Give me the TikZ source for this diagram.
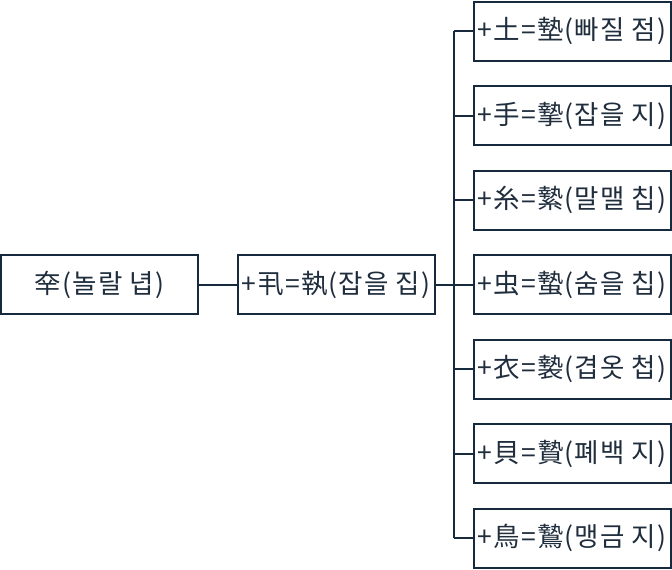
\documentclass[tikz,border=0pt]{standalone}
\usepackage{fontspec}
\setmainfont{Noto Sans CJK KR}[LetterSpace=4.5]
\definecolor{lineC}{HTML}{172A3D}
\definecolor{textC}{HTML}{1F2D3D}
\begin{document}
\begin{tikzpicture}[x=1pt,y=-1pt,
  box/.style={draw=lineC,line width=2pt,minimum width=197pt,minimum height=59pt,inner sep=0pt,font=\fontsize{26.5}{28}\selectfont,text=textC},
  link/.style={draw=lineC,line width=2pt}]
\useasboundingbox (0,0) rectangle (672,570);
\node[box] (root) at (99.5,284.5) {㚔(놀랄 녑)};
\node[box] (mid) at (336,284.5) {+丮=執(잡을 집)};
\node[box] (c1) at (572,31) {+土=墊(빠질 점)};
\node[box] (c2) at (572,115.5) {+手=摯(잡을 지)};
\node[box] (c3) at (572,200) {+糸=縶(말맬 칩)};
\node[box] (c4) at (572,284.5) {+虫=蟄(숨을 칩)};
\node[box] (c5) at (572,369) {+衣=褺(겹옷 첩)};
\node[box] (c6) at (572,453.5) {+貝=贄(폐백 지)};
\node[box] (c7) at (572,538) {+鳥=鷙(맹금 지)};
\coordinate (bus) at (454,284.5);
\draw[link] (root.east) -- (mid.west);
\draw[link] (mid.east) -- (bus);
\foreach \c in {c1,c2,c3,c4,c5,c6,c7}{
  \draw[link] (bus |- \c.west) -- (\c.west);
}
\draw[link] (bus |- c1.west) -- (bus |- c7.west);
\end{tikzpicture}
\end{document}
